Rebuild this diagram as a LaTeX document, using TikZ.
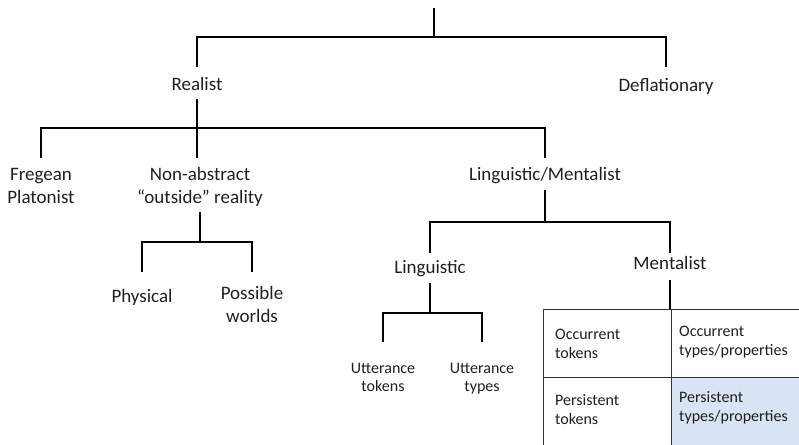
\documentclass[tikz,border=0pt]{standalone}
\usepackage{fontspec}
\setmainfont{Carlito}
\definecolor{cellblue}{HTML}{DAE3F3}
\definecolor{txt}{HTML}{1F1F1F}
\newcommand{\tstrut}[1]{\rule{0pt}{#1}}
\newcommand{\bstrut}[1]{\rule[-#1]{0pt}{#1}}
\begin{document}
\begin{tikzpicture}[x=1pt,y=-1pt,
  tree/.style={line width=2.4pt, line join=miter, draw=black},
  big/.style={font=\fontsize{19}{23}\selectfont, text=txt, inner sep=0pt},
  small/.style={font=\fontsize{16}{18.5}\selectfont, text=txt, inner sep=0pt},
  cell/.style={draw=black!80, line width=0.8pt, inner sep=0pt, anchor=north west},
  celltext/.style={small, anchor=north west, align=left, font=\fontsize{16}{19}\selectfont}]
\useasboundingbox (0,0) rectangle (799,444);
\clip (0,0) rectangle (799,444);

% ---- nodes ----
\coordinate (root) at (434,8);
\coordinate (j0) at (434,37);
\node[big, anchor=north, text height=23pt, text depth=9pt] (realist) at (197,67) {Realist};
\node[big, anchor=north, text height=24pt, text depth=4pt] (defl) at (666,67) {Deflationary};

\coordinate (j1) at (197,128);
\node[big, anchor=north, align=center] (frege) at (41,158) {\tstrut{22pt}Fregean\\Platonist};
\node[big, anchor=north, align=center] (nonabs) at (200,158) {\tstrut{22pt}Non-abstract\\“outside” reality\bstrut{9pt}};
\node[big, anchor=north, text height=22pt, text depth=10pt] (lm) at (545,158) {Linguistic/Mentalist};

\coordinate (j2) at (200,242);
\node[big, anchor=north, text height=30pt, text depth=4pt] (phys) at (142,272) {Physical};
\node[big, anchor=north, align=center] (poss) at (252,272) {\tstrut{27pt}Possible\\worlds};

\coordinate (j3) at (545,222);
\node[big, anchor=north, text height=20pt, text depth=10pt] (ling) at (430,253) {Linguistic};
\node[big, anchor=north, text height=16pt, text depth=11pt] (ment) at (670,253) {Mentalist};

\coordinate (j4) at (430,313);
\node[small, anchor=north, align=center] (utok) at (383,342) {\tstrut{31pt}Utterance\\tokens};
\node[small, anchor=north, align=center] (utyp) at (482,342) {\tstrut{31pt}Utterance\\types};

% ---- table ----
\node[cell, minimum width=128pt, minimum height=68pt] (c11) at (543,309) {};
\node[cell, minimum width=140pt, minimum height=68pt] (c12) at (671,309) {};
\node[cell, minimum width=128pt, minimum height=70pt] (c21) at (543,377) {};
\node[cell, fill=cellblue, minimum width=140pt, minimum height=70pt] (c22) at (671,377) {};

\node[celltext] (t11) at (555,309) {\tstrut{30pt}Occurrent\\tokens};
\node[celltext] (t12) at (679,309) {\tstrut{27pt}Occurrent\\types/properties};
\node[celltext] (t21) at (555,377) {\tstrut{28pt}Persistent\\tokens};
\node[celltext] (t22) at (679,377) {\tstrut{25pt}Persistent\\types/properties};

% ---- connectors ----
\draw[tree] (root) -- (j0);
\draw[tree] (realist.north) |- (j0) -| (defl.north);
\draw[tree] (realist.south) -- (j1);
\draw[tree] (frege.north) |- (j1) -| (lm.north);
\draw[tree] (j1) -- (j1 |- nonabs.north);
\draw[tree] (nonabs.south) -- (j2);
\draw[tree] (phys.north) |- (j2) -| (poss.north);
\draw[tree] (lm.south) -- (j3);
\draw[tree] (ling.north) |- (j3) -| (ment.north);
\draw[tree] (ling.south) -- (j4);
\draw[tree] (utok.north) |- (j4) -| (utyp.north);
\draw[tree] (ment.south) -- (ment.south |- c12.north);
\end{tikzpicture}
\end{document}
